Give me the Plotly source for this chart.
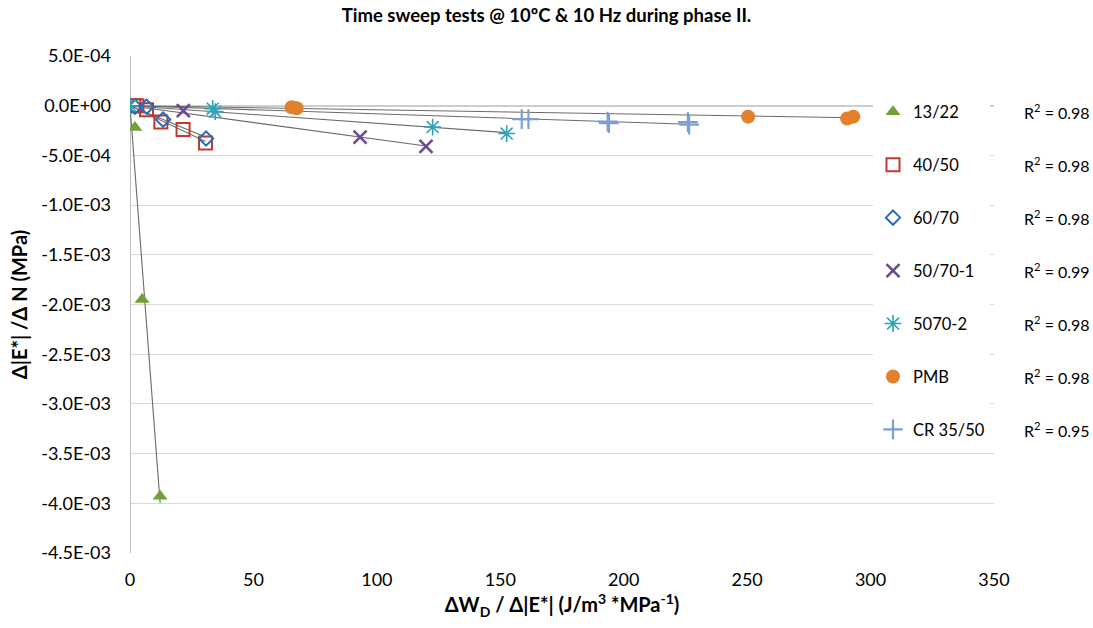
import numpy as np
import plotly.graph_objects as go

# ---------------- data ----------------
series_names = ["13/22", "40/50", "60/70", "50/70-1", "5070-2", "PMB", "CR 35/50"]

x_1322 = [2.0, 4.9, 12.2]
y_1322 = [-2.2e-4, -1.95e-3, -3.93e-3]

x_4050 = [1.6, 2.8, 6.7, 12.5, 21.5, 30.6]
y_4050 = [0.0, 0.0, -4.0e-5, -1.65e-4, -2.4e-4, -3.75e-4]

x_6070 = [2.0, 6.7, 13.4, 30.8]
y_6070 = [-1.0e-5, -1.0e-5, -1.4e-4, -3.3e-4]

x_50701 = [21.6, 93.2, 119.9]
y_50701 = [-5.0e-5, -3.16e-4, -4.1e-4]

x_50702 = [0.0, 33.5, 34.5, 122.6, 152.6]
y_50702 = [0.0, -3.0e-5, -6.0e-5, -2.15e-4, -2.8e-4]

x_pmb = [65.5, 67.5, 250.4, 290.5, 293.0]
y_pmb = [-1.5e-5, -2.5e-5, -1.1e-4, -1.3e-4, -1.1e-4]

x_cr = [158.7, 161.4, 193.5, 194.0, 226.0, 226.5]
y_cr = [-1.35e-4, -1.35e-4, -1.6e-4, -1.75e-4, -1.65e-4, -1.9e-4]

r2_labels = ["0.98", "0.98", "0.98", "0.99", "0.98", "0.98", "0.95"]

x_tick_vals = [0, 50, 100, 150, 200, 250, 300, 350]
y_tick_vals = [5e-4, 0, -5e-4, -1e-3, -1.5e-3, -2e-3, -2.5e-3, -3e-3, -3.5e-3, -4e-3, -4.5e-3]
y_tick_text = ["5.0E-04", "0.0E+00", "-5.0E-04", "-1.0E-03", "-1.5E-03", "-2.0E-03",
               "-2.5E-03", "-3.0E-03", "-3.5E-03", "-4.0E-03", "-4.5E-03"]

# ---------------- styles ----------------
colors = ["#71A035", "#C0392F", "#2E69B3", "#6B4A8E", "#2EA3B8", "#E3802C", "#7D9ED3"]
symbols = ["triangle-up", "square-open", "diamond-open", "x-thin-open",
           "asterisk-open", "circle", "cross-thin-open"]
sizes = [13, 13, 11, 13, 14, 14, 14]
line_w = [0, 2, 2, 2.6, 1.6, 0, 2.2]

xs = [x_1322, x_4050, x_6070, x_50701, x_50702, x_pmb, x_cr]
ys = [y_1322, y_4050, y_6070, y_50701, y_50702, y_pmb, y_cr]

FONT = "Lato, 'Open Sans', sans-serif"
fig = go.Figure()

# trendlines (linear, forced through origin)
for x, y in zip(xs, ys):
    xa = np.array(x)
    ya = np.array(y)
    slope = float((xa * ya).sum() / (xa * xa).sum())
    xt = np.array([0.0, xa.max()])
    fig.add_trace(go.Scatter(x=xt, y=slope * xt, mode="lines",
                             line=dict(color="#6b6b6b", width=1.1),
                             showlegend=False, hoverinfo="skip"))

for i, name in enumerate(series_names):
    fig.add_trace(go.Scatter(
        x=xs[i], y=ys[i], mode="markers", name=name, legendgroup=name,
        marker=dict(symbol=symbols[i], size=sizes[i], color=colors[i],
                    line=dict(color=colors[i], width=line_w[i])),
    ))

# plot-area geometry (px)
L, R, T, B = 130, 99, 56, 75
W, H = 1093, 628
pw, ph = W - L - R, H - T - B

def px_x(p):
    return (p - L) / pw

def px_y(p):
    return (H - B - p) / ph

row0, row_step = 111.5, 53.0
annotations = []
for i, r2 in enumerate(r2_labels):
    annotations.append(dict(
        x=px_x(1022), y=px_y(row0 + i * row_step), xref="paper", yref="paper",
        xanchor="left", yanchor="middle", showarrow=False,
        text="R<sup>2</sup> = " + r2, font=dict(family=FONT, size=16, color="#000")))

fig.update_layout(
    width=W, height=H,
    margin=dict(l=L, r=R, t=T, b=B),
    paper_bgcolor="white", plot_bgcolor="white",
    title=dict(text="<b>Time sweep tests @ 10ºC & 10 Hz during phase II.</b>",
               x=px_x(562), xanchor="center", y=1 - 16 / H, yanchor="middle",
               font=dict(family=FONT, size=18.5, color="#000")),
    xaxis=dict(range=[0, 350], tickvals=x_tick_vals, showgrid=False,
               zeroline=True, zerolinecolor="#BFBFBF", zerolinewidth=1,
               showline=False, ticks="", ticklabelstandoff=14,
               tickfont=dict(family=FONT, size=18, color="#000"),
               title=dict(text="<b>ΔW<sub>D</sub> / Δ|E*| (J/m<sup>3</sup> *MPa<sup>-1</sup>)</b>",
                          font=dict(family=FONT, size=20, color="#000"), standoff=4)),
    yaxis=dict(range=[-4.5e-3, 5e-4], tickvals=y_tick_vals, ticktext=y_tick_text,
               showgrid=True, gridcolor="#D9D9D9", gridwidth=1,
               zeroline=True, zerolinecolor="#CDCDCD", zerolinewidth=1.5,
               showline=False, ticks="", ticklabelstandoff=18,
               tickfont=dict(family=FONT, size=18, color="#000"),
               title=dict(text="<b>Δ|E*| /Δ N (MPa)</b>",
                          font=dict(family=FONT, size=20, color="#000"), standoff=8)),
    legend=dict(x=px_x(873), xanchor="left", y=px_y(94.5), yanchor="top",
                bgcolor="white", borderwidth=0, traceorder="grouped",
                tracegroupgap=28.5, font=dict(family=FONT, size=16.5, color="#000"),
                itemwidth=30),
    annotations=annotations,
    showlegend=True,
)

fig.write_html("out.html")
